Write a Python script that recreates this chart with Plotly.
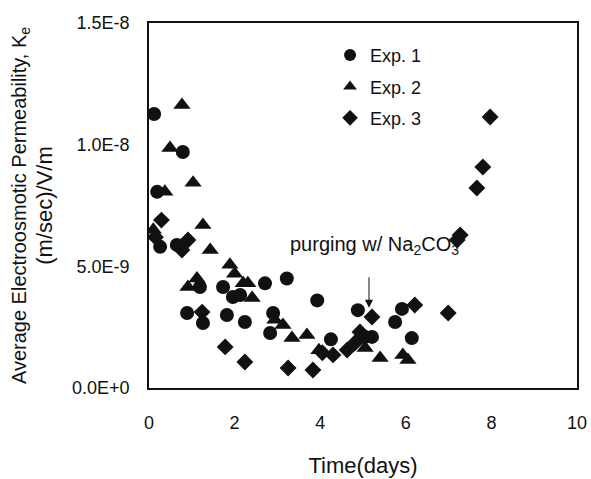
import plotly.graph_objects as go

# Exp. 1 (circles)
exp1_t = [0.12, 0.79, 0.19, 0.26, 0.65, 1.19, 1.73, 1.96, 2.13, 2.71, 3.22, 3.93,
          0.89, 1.26, 1.82, 2.24, 2.90, 2.83, 4.25, 4.88, 5.05, 5.21, 5.91, 5.75, 6.14]
exp1_k = [11.26, 9.70, 8.06, 5.80, 5.88, 4.15, 4.15, 3.74, 3.82, 4.30, 4.50, 3.60,
          3.08, 2.67, 3.00, 2.71, 3.08, 2.26, 2.00, 3.20, 2.10, 2.10, 3.25, 2.71, 2.05]

# Exp. 2 (triangles)
exp2_t = [0.77, 0.49, 0.37, 1.03, 1.26, 0.10, 1.43, 1.89, 2.00, 1.12, 0.91, 2.20,
          2.31, 2.41, 2.94, 3.13, 3.34, 3.69, 3.97, 5.05, 5.40, 5.93, 6.05]
exp2_k = [11.63, 9.86, 8.06, 8.43, 6.70, 6.50, 5.67, 5.06, 4.70, 4.50, 4.15, 4.30,
          4.30, 3.70, 2.80, 2.59, 2.05, 2.18, 1.55, 1.64, 1.23, 1.36, 1.15]

# Exp. 3 (diamonds)
exp3_t = [0.15, 0.29, 0.77, 0.91, 1.24, 1.78, 2.24, 3.25, 3.83, 4.05, 4.30, 4.63,
          4.81, 4.93, 5.21, 6.21, 6.99, 7.20, 7.27, 7.66, 7.80, 7.97]
exp3_k = [6.20, 6.90, 5.67, 6.08, 3.12, 1.69, 1.07, 0.82, 0.74, 1.45, 1.36, 1.56,
          1.85, 2.30, 2.92, 3.41, 3.08, 6.08, 6.29, 8.22, 9.08, 11.14]

scale = 1e-9
x_ticks = [0, 2, 4, 6, 8, 10]
y_tickvals = [0, 5e-9, 1e-8, 1.5e-8]
y_ticktext = ["0.0E+0", "5.0E-9", "1.0E-8", "1.5E-8"]

FONT = "Liberation Sans, Arial, sans-serif"
INK = "#111111"

fig = go.Figure()
fig.add_trace(go.Scatter(x=exp1_t, y=[v * scale for v in exp1_k], mode="markers",
                         name="Exp. 1", legendgroup="g1",
                         marker=dict(symbol="circle", size=14, color=INK)))
fig.add_trace(go.Scatter(x=exp2_t, y=[v * scale for v in exp2_k], mode="markers",
                         name="Exp. 2", legendgroup="g2",
                         marker=dict(symbol="triangle-up", size=15, color=INK)))
fig.add_trace(go.Scatter(x=exp3_t, y=[v * scale for v in exp3_k], mode="markers",
                         name="Exp. 3", legendgroup="g3",
                         marker=dict(symbol="diamond", size=13, color=INK)))

fig.add_annotation(x=5.27, y=5.84e-9, text="purging w/ Na<sub>2</sub>CO<sub>3</sub>",
                   showarrow=False, font=dict(family=FONT, size=20, color=INK))
fig.add_annotation(x=5.14, y=3.3e-9, ax=0, ay=-32, axref="pixel", ayref="pixel",
                   text="", showarrow=True, arrowhead=2, arrowsize=1.6,
                   arrowwidth=1, arrowcolor=INK)

fig.update_layout(
    width=591, height=479,
    margin=dict(l=149, r=14, t=23, b=91, autoexpand=False),
    paper_bgcolor="white", plot_bgcolor="white",
    font=dict(family=FONT, size=17, color=INK),
    showlegend=True,
    legend=dict(x=0.423, y=0.962, xanchor="left", yanchor="top",
                bgcolor="rgba(0,0,0,0)", font=dict(size=18),
                itemsizing="constant", itemwidth=30,
                traceorder="grouped", tracegroupgap=5),
    xaxis=dict(range=[0, 10], tickvals=x_ticks, showgrid=False, zeroline=False,
               showline=True, linecolor=INK, linewidth=1.5, mirror=True,
               ticks="", ticklabelstandoff=18, tickfont=dict(size=18),
               automargin=False,
               title=dict(text="Time(days)", standoff=25, font=dict(size=22))),
    yaxis=dict(range=[0, 1.5e-8], tickvals=y_tickvals, ticktext=y_ticktext,
               showgrid=False, zeroline=False,
               showline=True, linecolor=INK, linewidth=1.5, mirror=True,
               ticks="", ticklabelstandoff=14, tickfont=dict(size=18),
               automargin=False,
               title=dict(text="Average Electroosmotic Permeability, K<sub>e</sub><br>"
                               "<span style='font-size:22px'>(m/sec)/V/m</span>",
                          standoff=14, font=dict(size=20))),
)

fig.write_html("out.html", config={"displayModeBar": False},
               post_script="document.body.style.margin='0';")
